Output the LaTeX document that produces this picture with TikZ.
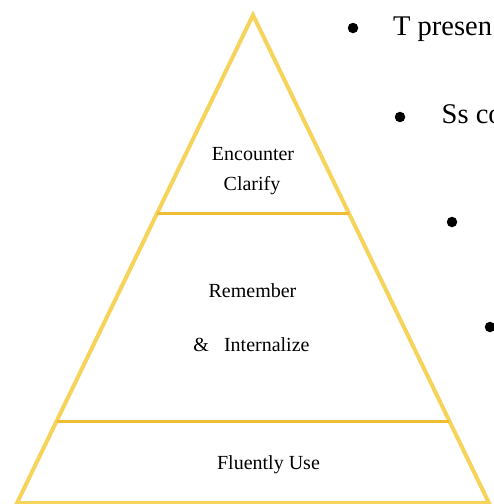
\documentclass[tikz,border=0pt]{standalone}
\usepackage{fontspec}
\setmainfont{Liberation Serif}
\usetikzlibrary{calc}

\definecolor{pyrside}{HTML}{F6D35A}
\definecolor{pyrband}{HTML}{F0BC33}

\tikzset{
    level/.style={font=\fontsize{20}{24}\selectfont, anchor=base, inner sep=0pt},
    bulletdot/.style={circle, fill=black, inner sep=0pt, minimum size=10.5pt},
    bullettext/.style={font=\fontsize{28.5}{32}\selectfont, anchor=base west, inner sep=0pt},
}

\begin{document}
\begin{tikzpicture}[x=1pt, y=-1pt]
    \clip (0,0) rectangle (494,504);
    \fill[white] (0,0) rectangle (494,504);
    % pyramid
    \coordinate (apex) at (253,15);
    \coordinate (bl) at (17,503);
    \coordinate (br) at (489,503);
    \draw[pyrside, line width=4pt] (apex) -- (br) -- (bl) -- cycle;
    \foreach \t[count=\n] in {0.406,0.832}{
        \draw[pyrband, line width=3pt] ($(apex)!\t!(bl)$) coordinate (bandl\n) -- ($(apex)!\t!(br)$) coordinate (bandr\n);
    }
    % levels
    \node[level] (encounter) at (253,160) {Encounter};
    \node[level] (clarify) at (252,190) {Clarify};
    \node[level] (remember) at (252.5,297) {Remember};
    \node[level] (internalize) at (251.5,351) {\&\hspace{15pt}Internalize};
    \node[level] (fluently) at (268.5,469) {Fluently Use};
    % bullets
    \foreach \bx/\by[count=\n] in {353/28, 400/117, 452/222, 490/327}{
        \node[bulletdot] (dot\n) at (\bx,\by) {};
    }
    \node[bullettext] (tpresent) at (393,35.5) {T presen};
    \node[bullettext] (sscomp) at (441.5,123.5) {Ss co};
\end{tikzpicture}
\end{document}
